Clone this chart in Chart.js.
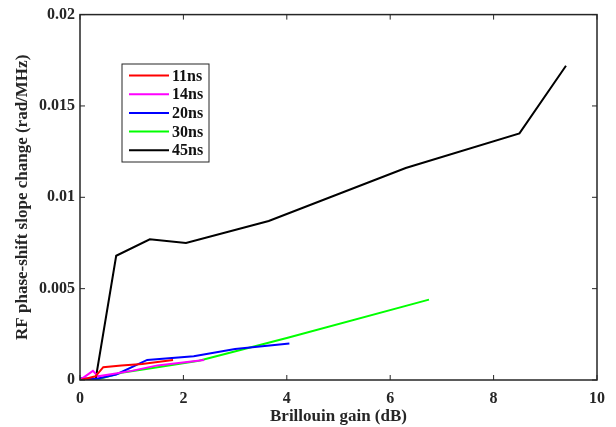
<!DOCTYPE html>
<html>
<head>
<meta charset="utf-8">
<script src="https://cdn.jsdelivr.net/npm/chart.js@4/dist/chart.umd.min.js"></script>
<style>
  html, body { margin: 0; padding: 0; background: #fff; }
  #wrap { width: 616px; height: 427px; }
</style>
</head>
<body>
<div id="wrap"><canvas id="chart-phase"></canvas></div>
<script>
// values
const gain11 = [0, 0.15, 0.3, 0.45, 0.8, 1.2, 1.8];
const slope11 = [0, 0.0001, 0.0002, 0.0007, 0.0008, 0.00088, 0.0011];

const gain14 = [0, 0.1, 0.25, 0.35, 1.0, 1.5, 2.4];
const slope14 = [0, 0.0002, 0.0005, 0.0002, 0.0005, 0.0008, 0.0011];

const gain20 = [0, 0.3, 0.7, 1.3, 2.2, 3.0, 4.05];
const slope20 = [0.0001, 0.00005, 0.0003, 0.0011, 0.0013, 0.0017, 0.002];

const gain30 = [0.3, 0.8, 1.5, 2.3, 4.0, 6.75];
const slope30 = [0, 0.0004, 0.0007, 0.00105, 0.0023, 0.0044];

const gain45 = [0.05, 0.3, 0.7, 1.35, 2.05, 3.65, 6.3, 8.5, 9.4];
const slope45 = [0, 0, 0.0068, 0.0077, 0.0075, 0.0087, 0.0116, 0.0135, 0.0172];

const seriesNames = ['11ns', '14ns', '20ns', '30ns', '45ns'];
const seriesColors = ['#ff0000', '#ff00ff', '#0000ff', '#00ff00', '#000000'];

const xTicks = [0, 2, 4, 6, 8, 10];
const yTicks = [0, 0.005, 0.01, 0.015, 0.02];
const yTickLabels = ['0', '0.005', '0.01', '0.015', '0.02'];

const pairs = (xs, ys) => xs.map((x, i) => ({ x, y: ys[i] }));
const allGain = [gain11, gain14, gain20, gain30, gain45];
const allSlope = [slope11, slope14, slope20, slope30, slope45];

const FONT = '"Liberation Serif", "Times New Roman", serif';
const AXIS = '#262626';

// frame with inward ticks on all four sides, like the original figure
const framePlugin = {
  id: 'frame',
  afterDraw(chart) {
    const { ctx, chartArea: a, scales } = chart;
    ctx.save();
    ctx.strokeStyle = AXIS;
    ctx.lineWidth = 1.5;
    ctx.strokeRect(a.left, a.top, a.right - a.left, a.bottom - a.top);
    ctx.lineWidth = 1;
    xTicks.forEach(v => {
      const px = scales.x.getPixelForValue(v);
      ctx.beginPath();
      ctx.moveTo(px, a.bottom); ctx.lineTo(px, a.bottom - 5);
      ctx.moveTo(px, a.top); ctx.lineTo(px, a.top + 5);
      ctx.stroke();
    });
    yTicks.forEach(v => {
      const py = scales.y.getPixelForValue(v);
      ctx.beginPath();
      ctx.moveTo(a.left, py); ctx.lineTo(a.left + 5, py);
      ctx.moveTo(a.right, py); ctx.lineTo(a.right - 5, py);
      ctx.stroke();
    });
    ctx.restore();
  }
};

// boxed legend inside the plot, upper left
const legendPlugin = {
  id: 'boxLegend',
  afterDraw(chart) {
    const { ctx } = chart;
    const x0 = 122, y0 = 64, w = 87, h = 98;
    ctx.save();
    ctx.fillStyle = '#fff';
    ctx.fillRect(x0, y0, w, h);
    ctx.strokeStyle = AXIS;
    ctx.lineWidth = 1;
    ctx.strokeRect(x0, y0, w, h);
    ctx.font = 'bold 16px ' + FONT;
    ctx.textBaseline = 'middle';
    chart.data.datasets.forEach((ds, i) => {
      const yy = y0 + 11.5 + i * 18.7;
      ctx.strokeStyle = ds.borderColor;
      ctx.lineWidth = 2;
      ctx.beginPath();
      ctx.moveTo(x0 + 7, yy); ctx.lineTo(x0 + 47, yy);
      ctx.stroke();
      ctx.fillStyle = '#111';
      ctx.fillText(ds.label, x0 + 50, yy + 1);
    });
    ctx.restore();
  }
};

const ctx = document.getElementById('chart-phase').getContext('2d');
new Chart(ctx, {
  type: 'scatter',
  data: {
    datasets: seriesNames.map((name, i) => ({
      label: name,
      data: pairs(allGain[i], allSlope[i]),
      showLine: true,
      borderColor: seriesColors[i],
      backgroundColor: seriesColors[i],
      borderWidth: 2,
      pointRadius: 0,
      tension: 0
    }))
  },
  options: {
    responsive: true,
    maintainAspectRatio: false,
    animation: false,
    layout: { padding: { top: 13, right: 19, left: 0, bottom: 0 } },
    plugins: {
      legend: { display: false },
      tooltip: { enabled: false }
    },
    scales: {
      x: {
        type: 'linear',
        min: 0, max: 10,
        afterBuildTicks: s => { s.ticks = xTicks.map(v => ({ value: v })); },
        afterFit: s => { s.height = 47; },
        grid: { display: false, drawTicks: false },
        border: { display: false },
        ticks: {
          color: '#262626',
          padding: 9,
          font: { family: FONT, size: 16, weight: 'bold' },
          callback: v => String(v)
        },
        title: {
          display: true,
          text: 'Brillouin gain (dB)',
          color: '#262626',
          padding: { top: 0, bottom: 0 },
          font: { family: FONT, size: 17, weight: 'bold' }
        }
      },
      y: {
        type: 'linear',
        min: 0, max: 0.02,
        afterBuildTicks: s => { s.ticks = yTicks.map(v => ({ value: v })); },
        afterFit: s => { s.width = 80; },
        grid: { display: false, drawTicks: false },
        border: { display: false },
        ticks: {
          color: '#262626',
          padding: 5,
          font: { family: FONT, size: 16, weight: 'bold' },
          callback: (v) => yTickLabels[yTicks.indexOf(v)] ?? ''
        },
        title: {
          display: true,
          text: 'RF phase-shift slope change (rad/MHz)',
          color: '#262626',
          padding: { top: 12, bottom: 0 },
          font: { family: FONT, size: 17, weight: 'bold' }
        }
      }
    }
  },
  plugins: [framePlugin, legendPlugin]
});
</script>
</body>
</html>
